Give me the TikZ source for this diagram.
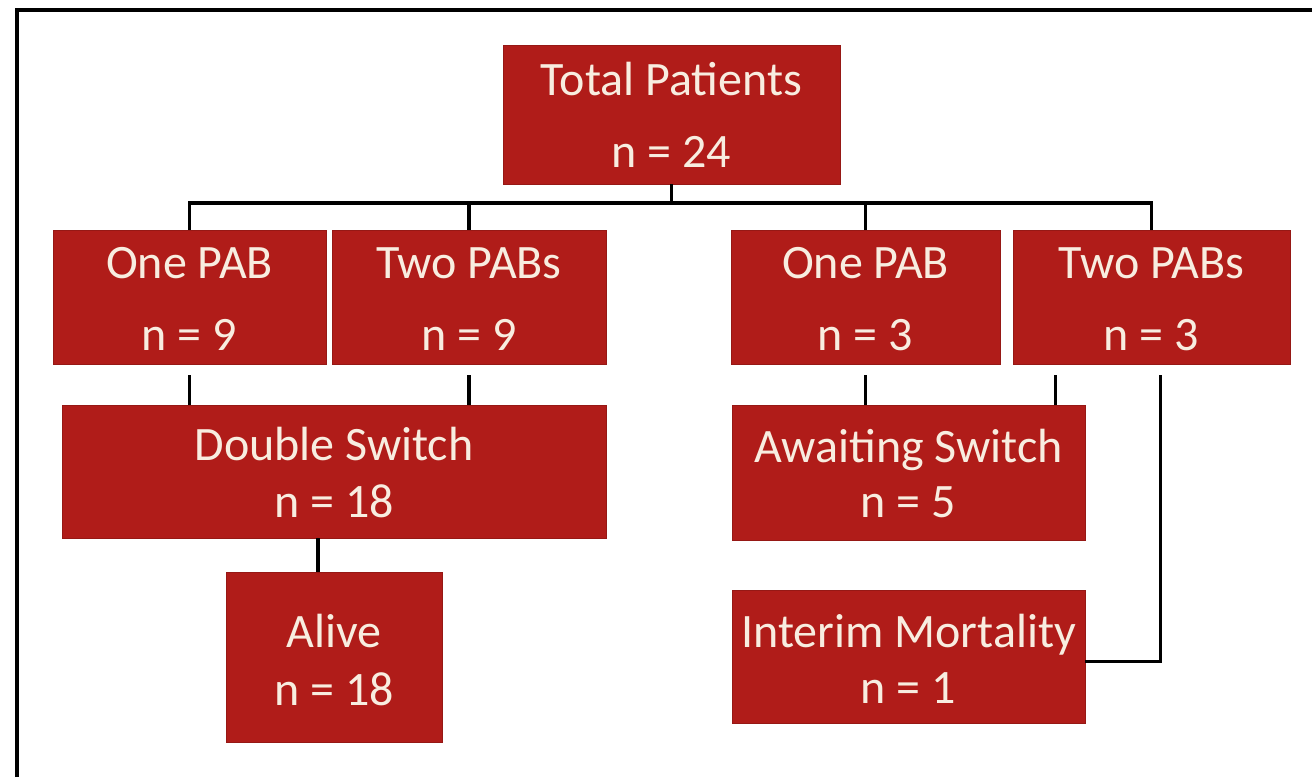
\documentclass[tikz,border=0pt]{standalone}
\usepackage{fontspec}
\setmainfont{Carlito}
\definecolor{boxred}{HTML}{B01C19}
\definecolor{boxtext}{HTML}{F8EDE0}
\begin{document}
\begin{tikzpicture}[x=1pt,y=-1pt,
  box/.style={fill=boxred,draw=boxred!85!black,line width=0.8pt,inner sep=0pt},
  txt/.style={anchor=base,text=boxtext,inner sep=0pt,font=\fontsize{48}{52}\selectfont},
  conn/.style={line width=3.4pt,draw=black}]
\useasboundingbox (0,0) rectangle (1312,777);
\fill[white] (0,0) rectangle (1312,777);
\draw[line width=4pt] (17,777) -- (17,10) -- (1312,10);
% boxes
\node[box,minimum width=337pt,minimum height=139pt] (total) at (671.5,114.5) {};
\node[box,minimum width=273pt,minimum height=134pt] (onel) at (189.5,297) {};
\node[box,minimum width=274pt,minimum height=134pt] (twol) at (469,297) {};
\node[box,minimum width=269pt,minimum height=134pt] (oner) at (865.5,297) {};
\node[box,minimum width=277pt,minimum height=134pt] (twor) at (1151.5,297) {};
\node[box,minimum width=544pt,minimum height=133pt] (dbl) at (334,471.5) {};
\node[box,minimum width=353pt,minimum height=135pt] (await) at (908.5,472.5) {};
\node[box,minimum width=353pt,minimum height=133pt] (interim) at (908.5,656.5) {};
\node[box,minimum width=216pt,minimum height=170pt] (alive) at (334,657) {};
% texts
\node[txt] (totalA) at (671.5,95) {Total Patients};
\node[txt] (totalB) at (671.5,167) {n = 24};
\node[txt] (onelA) at (189.5,278) {One PAB};
\node[txt] (onelB) at (189.5,350) {n = 9};
\node[txt] (twolA) at (469,278) {Two PABs};
\node[txt] (twolB) at (469,350) {n = 9};
\node[txt] (onerA) at (865.5,278) {One PAB};
\node[txt] (onerB) at (865.5,350) {n = 3};
\node[txt] (tworA) at (1151.5,278) {Two PABs};
\node[txt] (tworB) at (1151.5,350) {n = 3};
\node[txt] (dblA) at (334,460) {Double Switch};
\node[txt] (dblB) at (334,517) {n = 18};
\node[txt] (awaitA) at (908.5,462) {Awaiting Switch};
\node[txt] (awaitB) at (908.5,517) {n = 5};
\node[txt] (interimA) at (908.5,647) {Interim Mortality};
\node[txt] (interimB) at (908.5,703) {n = 1};
\node[txt] (aliveA) at (334,647) {Alive};
\node[txt] (aliveB) at (334,705) {n = 18};
% connectors
\coordinate (bus) at (0,203);
\draw[conn] (total.south) -- (total.south |- bus);
\draw[conn] (onel.north) -- (onel.north |- bus) -- (twor.north |- bus) -- (twor.north);
\draw[conn] (twol.north) -- (twol.north |- bus);
\draw[conn] (oner.north) -- (oner.north |- bus);
\draw[conn,shorten <=11pt] (onel.south) -- (onel.south |- dbl.north);
\draw[conn,shorten <=11pt] (twol.south) -- (twol.south |- dbl.north);
\draw[conn,shorten <=11pt] (oner.south) -- (oner.south |- await.north);
\coordinate (tA) at ([xshift=43pt]twor.south west);
\coordinate (tB) at ([xshift=9pt]twor.south);
\coordinate (iE) at ([yshift=-5pt]interim.east);
\coordinate (dA) at ([xshift=-16pt]alive.north);
\draw[conn,shorten <=11pt] (tA) -- (tA |- await.north);
\draw[conn,shorten <=11pt] (tB) -- (tB |- iE) -- (iE);
\draw[conn] (dA |- dbl.south) -- (dA);
\end{tikzpicture}
\end{document}
